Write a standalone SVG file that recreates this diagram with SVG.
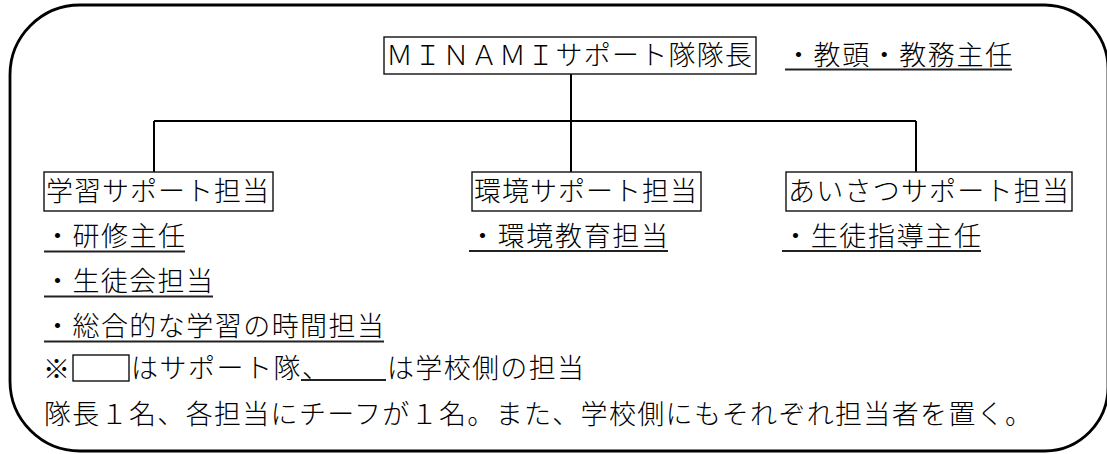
<svg xmlns="http://www.w3.org/2000/svg" width="1107" height="454" viewBox="0 0 1107 454">
<style>
text{font-family:"Liberation Serif","Noto Sans CJK JP",serif;fill:#000;font-size:27px;font-weight:300}
.box{fill:none;stroke:#111;stroke-width:1.4}
.ul{stroke:#222;stroke-width:1.8}
.con{stroke:#000;stroke-width:2;fill:none}
.frame{fill:none;stroke:#000;stroke-width:2.8}
</style>
<path class="frame" d="M80,5 H1045 A64,64 0 0 1 1108,69 V387 A64,64 0 0 1 1045,451 H80 A70,70 0 0 1 10,381 V75 A70,70 0 0 1 80,5 Z"/>
<g id="connectors">
<line class="con" x1="571" y1="74" x2="571" y2="172"/>
<line class="con" x1="154" y1="121" x2="916" y2="121"/>
<line class="con" x1="154" y1="121" x2="154" y2="172"/>
<line class="con" x1="916" y1="121" x2="916" y2="172"/>
</g>
<g id="leader">
<rect class="box" x="384" y="37" width="372" height="37"/>
<text x="386" y="65" font-size="25" textLength="366" lengthAdjust="spacing">ＭＩＮＡＭＩサポート隊隊長</text>
</g>
<g id="leader-staff">
<text x="785" y="65" font-size="25" textLength="227" lengthAdjust="spacing">・教頭・教務主任</text>
<line class="ul" x1="785" y1="69.5" x2="1012" y2="69.5"/>
</g>
<g id="study">
<rect class="box" x="44" y="172" width="229" height="39"/>
<text x="46" y="201" textLength="223" lengthAdjust="spacing">学習サポート担当</text>
</g>
<g id="env">
<rect class="box" x="472" y="172" width="229" height="39"/>
<text x="474" y="201" textLength="223" lengthAdjust="spacing">環境サポート担当</text>
</g>
<g id="greet">
<rect class="box" x="786" y="172" width="286" height="39"/>
<text x="788" y="201" textLength="281" lengthAdjust="spacing">あいさつサポート担当</text>
</g>
<g id="study-staff">
<text x="44" y="246" textLength="141" lengthAdjust="spacing">・研修主任</text>
<line class="ul" x1="44" y1="251.5" x2="185" y2="251.5"/>
<text x="44" y="291" textLength="169" lengthAdjust="spacing">・生徒会担当</text>
<line class="ul" x1="44" y1="296.5" x2="213" y2="296.5"/>
<text x="44" y="336" textLength="340" lengthAdjust="spacing">・総合的な学習の時間担当</text>
<line class="ul" x1="44" y1="341.5" x2="384" y2="341.5"/>
</g>
<g id="env-staff">
<text x="469" y="246" textLength="199" lengthAdjust="spacing">・環境教育担当</text>
<line class="ul" x1="469" y1="251" x2="668" y2="251"/>
</g>
<g id="greet-staff">
<text x="782" y="246" textLength="199" lengthAdjust="spacing">・生徒指導主任</text>
<line class="ul" x1="782" y1="251" x2="981" y2="251"/>
</g>
<g id="notes">
<text x="43" y="379" font-size="30">※</text>
<rect class="box" x="73" y="355" width="56" height="26"/>
<text x="131" y="378" textLength="198" lengthAdjust="spacing">はサポート隊、</text>
<line class="ul" x1="301" y1="380" x2="386" y2="380"/>
<text x="387" y="378" textLength="197" lengthAdjust="spacing">は学校側の担当</text>
<text x="44" y="424" textLength="988" lengthAdjust="spacing">隊長１名、各担当にチーフが１名。また、学校側にもそれぞれ担当者を置く。</text>
</g>
</svg>
